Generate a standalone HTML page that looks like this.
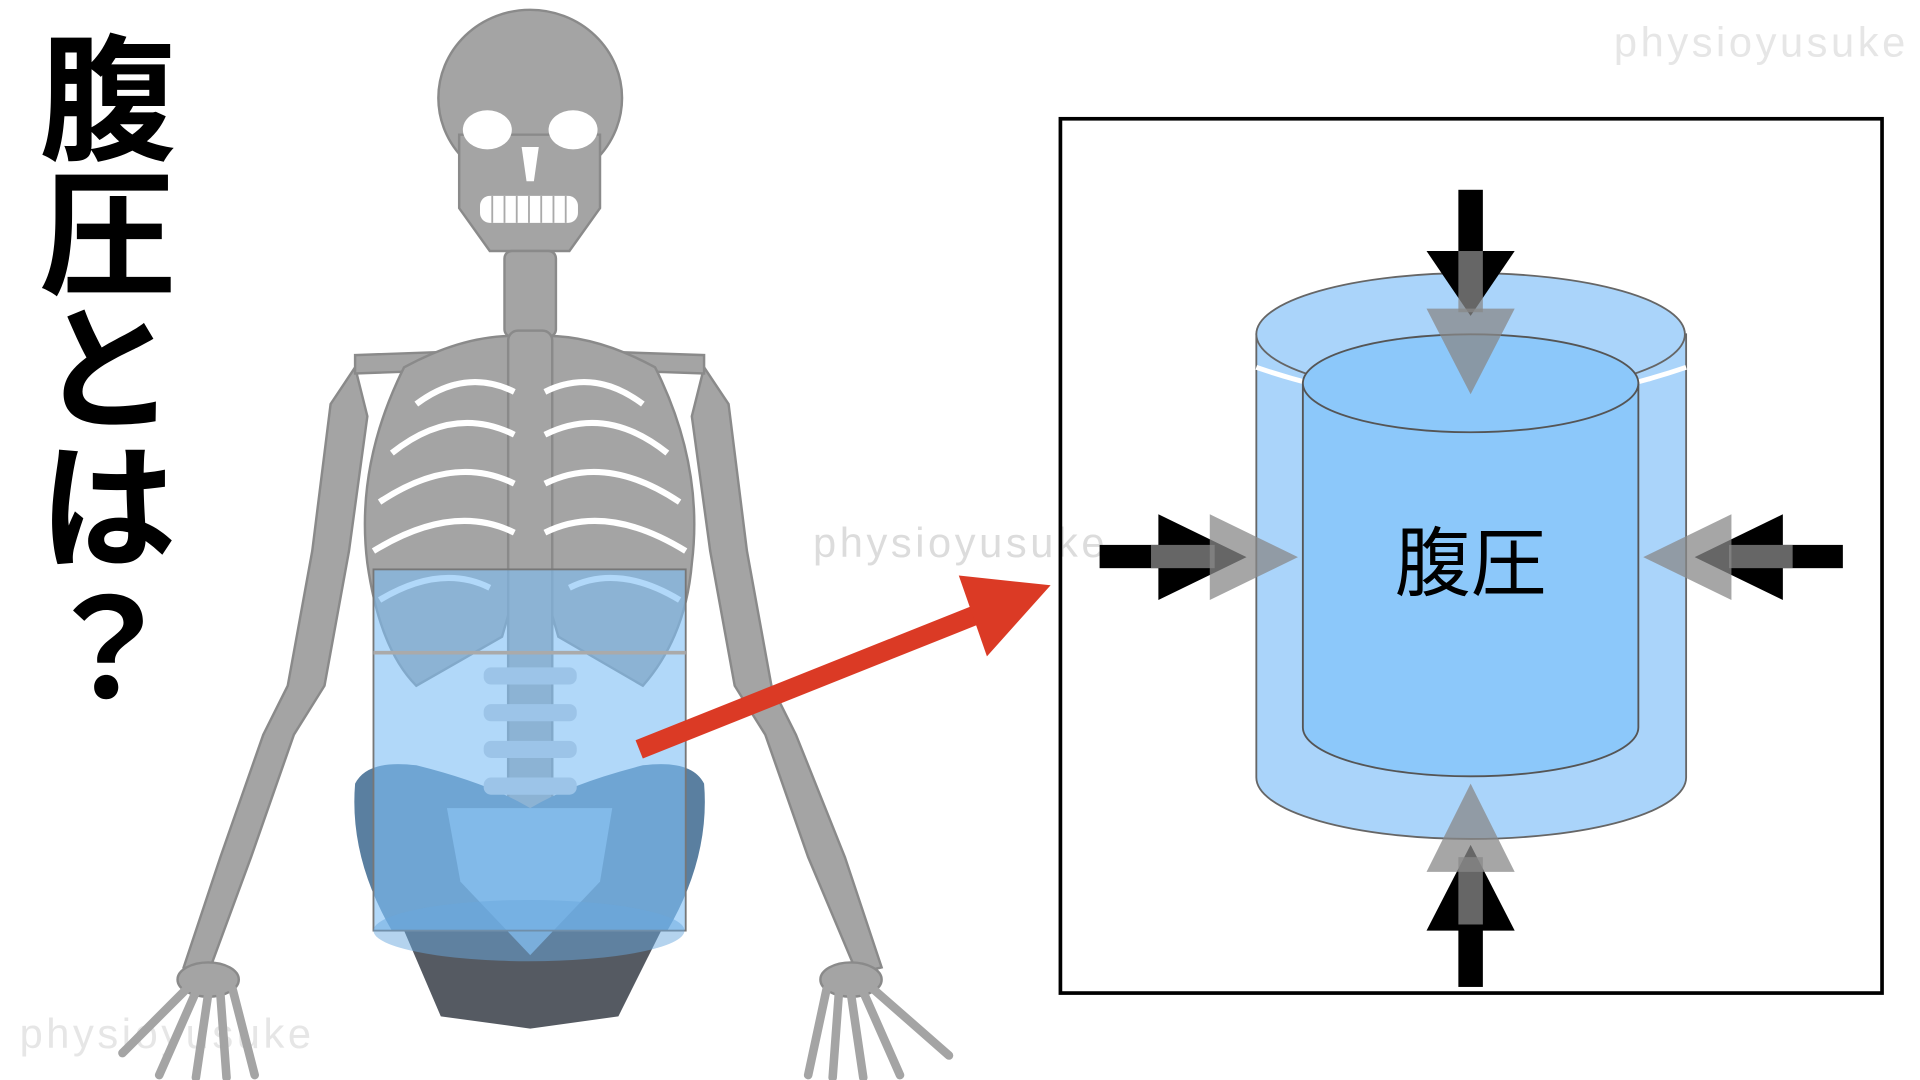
<!DOCTYPE html>
<html><head><meta charset="utf-8"><style>
html,body{margin:0;padding:0;background:#fff;width:1920px;height:1080px;overflow:hidden}
svg{display:block}
</style></head><body>
<svg width="1920" height="1080" viewBox="0 0 1568 882" xmlns="http://www.w3.org/2000/svg">
<rect width="1568" height="882" fill="#fff"/>
<g font-family="Liberation Sans, sans-serif" fill="#e6e6e6" font-size="34">
<text x="1318" y="46" textLength="238">physioyusuke</text>
<text x="664" y="455" fill="#dcdcdc" textLength="238">physioyusuke</text>
<text x="16" y="856" textLength="238">physioyusuke</text>
</g>
<g font-family="Liberation Sans, 'Noto Sans CJK JP', sans-serif" font-weight="bold" font-size="112" fill="#000" text-anchor="middle">
<text x="88" y="122">腹</text>
<text x="88" y="232">圧</text>
<text x="88" y="342">と</text>
<text x="88" y="455">は</text>
<text x="88" y="570">？</text>
</g>
<!-- skeleton -->
<g fill="#a4a4a4" stroke="#8a8a8a" stroke-width="2">
<path d="M290 300 L270 330 L255 450 L235 560 L215 600 L180 700 L150 790 L170 795 L205 700 L240 600 L265 560 L285 450 L300 340 Z"/>
<path d="M575 300 L595 330 L610 450 L630 560 L650 600 L690 700 L720 790 L700 795 L660 700 L625 600 L600 560 L580 450 L565 340 Z"/>
<ellipse cx="170" cy="800" rx="25" ry="14"/>
<ellipse cx="695" cy="800" rx="25" ry="14"/>
<ellipse cx="433" cy="80" rx="75" ry="72"/>
<path d="M375 110 L490 110 L490 170 L465 205 L400 205 L375 170 Z"/>
<rect x="412" y="205" width="42" height="70" rx="6"/>
<path d="M290 290 L430 285 L575 290 L575 305 L430 300 L290 305 Z"/>
<path d="M330 300 Q290 380 300 460 Q310 530 340 560 L410 520 L433 440 L456 520 L525 560 Q560 520 565 460 Q575 380 535 300 Q480 270 433 275 Q385 270 330 300 Z"/>
<rect x="415" y="270" width="36" height="400" rx="8"/>
</g>
<!-- fingers -->
<g stroke="#a4a4a4" stroke-width="7" stroke-linecap="round" fill="none">
<path d="M155 805 L100 860"/><path d="M160 810 L130 878"/><path d="M170 812 L160 880"/><path d="M180 812 L185 880"/><path d="M190 808 L208 878"/>
<path d="M710 805 L775 862"/><path d="M705 810 L735 878"/><path d="M695 812 L705 880"/><path d="M685 812 L680 880"/><path d="M675 808 L660 878"/>
</g>
<g fill="#fff">
<ellipse cx="398" cy="106" rx="20" ry="16"/>
<ellipse cx="468" cy="106" rx="20" ry="16"/>
<path d="M426 120 L440 120 L436 148 L430 148 Z"/>
<rect x="392" y="160" width="80" height="22" rx="8"/>
</g>
<g stroke="#aaa" stroke-width="1.5"><path d="M402 160 V182 M412 160 V182 M422 160 V182 M432 160 V182 M442 160 V182 M452 160 V182 M462 160 V182"/></g>
<g fill="none" stroke="#fff" stroke-width="5">
<path d="M340 330 Q380 300 420 320"/><path d="M525 330 Q485 300 445 320"/>
<path d="M320 370 Q370 330 420 355"/><path d="M545 370 Q495 330 445 355"/>
<path d="M310 410 Q370 370 420 395"/><path d="M555 410 Q495 370 445 395"/>
<path d="M305 450 Q370 410 420 435"/><path d="M560 450 Q495 410 445 435"/>
<path d="M310 490 Q360 460 400 480"/><path d="M555 490 Q505 460 465 480"/>
</g>
<!-- pelvis -->
<path d="M330 760 L360 830 L433 840 L505 830 L540 760 Z" fill="#555a62"/>
<path d="M290 640 Q300 620 340 625 Q400 640 433 660 Q466 640 525 625 Q565 620 575 640 Q580 700 545 760 L320 760 Q285 700 290 640 Z" fill="#5a7fa0"/>
<path d="M365 660 L433 660 L500 660 L490 720 L433 780 L376 720 Z" fill="#8ab4d8"/>
<!-- blue cylinder on body -->
<rect x="305" y="465" width="255" height="295" fill="#7dbef5" fill-opacity="0.6" stroke="#777" stroke-width="1.5"/>
<ellipse cx="432" cy="760" rx="127" ry="25" fill="#6aa8dd" fill-opacity="0.5"/>
<line x1="305" y1="533" x2="560" y2="533" stroke="#aaa" stroke-width="3"/>
<g fill="#9cc4e8"><rect x="395" y="545" width="76" height="14" rx="6"/><rect x="395" y="575" width="76" height="14" rx="6"/><rect x="395" y="605" width="76" height="14" rx="6"/><rect x="395" y="635" width="76" height="14" rx="6"/></g>
<!-- red arrow -->
<line x1="522" y1="612" x2="810" y2="497" stroke="#db3a25" stroke-width="16"/>
<polygon points="858,478 783,470 806,536" fill="#db3a25"/>
<rect x="866" y="97" width="671" height="714" fill="none" stroke="#000" stroke-width="3"/>
<path d="M1026 273 L1026 635 A175 50 0 0 0 1377 635 L1377 273 Z" fill="#aad4fa" stroke="#666" stroke-width="1.5"/>
<ellipse cx="1201" cy="273" rx="175" ry="50" fill="#aad4fa" stroke="#666" stroke-width="1.5"/>
<path d="M1026 300 Q1201 360 1377 300" fill="none" stroke="#fff" stroke-width="4"/>
<path d="M1064 313 L1064 594 A137 40 0 0 0 1338 594 L1338 313 Z" fill="#8cc8fa" stroke="#555" stroke-width="1.5"/>
<ellipse cx="1201" cy="313" rx="137" ry="40" fill="#8cc8fa" stroke="#555" stroke-width="1.5"/>
<text x="1201" y="482" text-anchor="middle" font-family="Liberation Sans, 'Noto Sans CJK JP', sans-serif" font-size="62" fill="#000">腹圧</text>
<g fill="#000">
<rect x="1191" y="155" width="20" height="55"/><polygon points="1165,205 1237,205 1201,258"/>
<rect x="1191" y="752" width="20" height="54"/><polygon points="1165,760 1237,760 1201,690"/>
<rect x="898" y="445" width="55" height="19"/><polygon points="946,420 946,490 1018,455"/>
<rect x="1450" y="445" width="55" height="19"/><polygon points="1456,420 1456,490 1384,455"/>
</g>
<g fill="#888" fill-opacity="0.75">
<rect x="1191" y="205" width="20" height="50"/><polygon points="1165,252 1237,252 1201,322"/>
<rect x="1191" y="700" width="20" height="55"/><polygon points="1165,712 1237,712 1201,640"/>
<rect x="940" y="445" width="52" height="19"/><polygon points="988,420 988,490 1060,455"/>
<rect x="1412" y="445" width="52" height="19"/><polygon points="1414,420 1414,490 1342,455"/>
</g>
</svg>
</body></html>
